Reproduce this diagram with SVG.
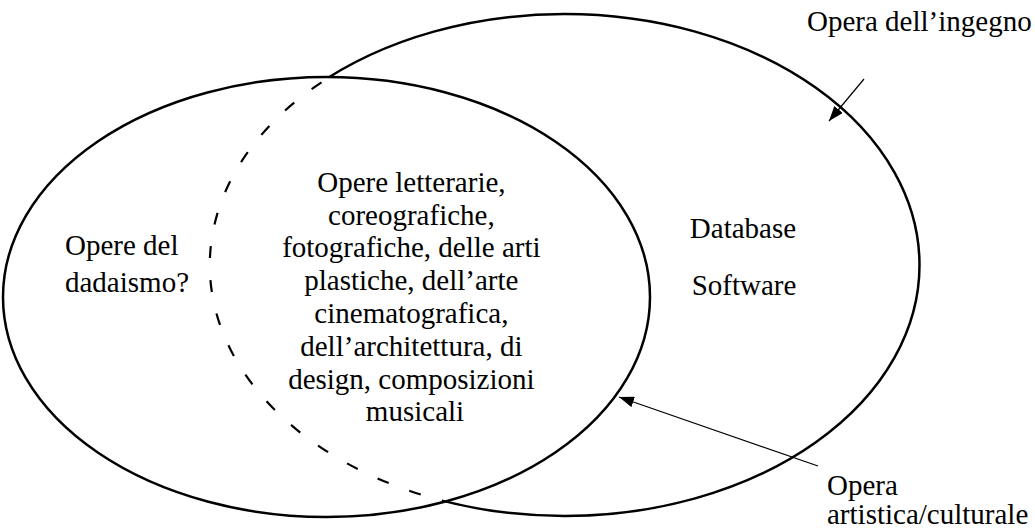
<svg xmlns="http://www.w3.org/2000/svg" width="1035" height="528" viewBox="0 0 1035 528">
  <style>
    .lbl { font-family: "Liberation Serif", "Times New Roman", serif; font-size: 29px; fill: #000; }
    .mid { text-anchor: middle; }
    .set { fill: none; stroke: #000; stroke-width: 2.5; }
    .hidden { fill: none; stroke: #000; stroke-width: 2.2; stroke-dasharray: 12 22; stroke-dashoffset: 25; }
    .link { fill: none; stroke: #000; stroke-width: 1.2; marker-end: url(#head); }
  </style>
  <defs>
    <marker id="head" markerUnits="userSpaceOnUse" markerWidth="15" markerHeight="11" refX="15" refY="5.5" orient="auto">
      <path d="M0,0 L15,5.5 L0,11 Z" fill="#000"/>
    </marker>
    <!-- everything outside the inner set -->
    <mask id="outsideInner">
      <rect width="1035" height="528" fill="#fff"/>
      <ellipse cx="326.5" cy="297" rx="323.5" ry="220" fill="#000"/>
    </mask>
  </defs>

  <rect width="1035" height="528" fill="#fff"/>

  <!-- outer set: works of ingenuity -->
  <g id="opera-ingegno">
    <ellipse class="set" cx="564.5" cy="265" rx="355" ry="251" mask="url(#outsideInner)"/>
    <!-- part of the outer boundary running through the inner set -->
    <path class="hidden" d="M329,77.5 A355,251 0 0 0 445,501.4"/>
    <text class="lbl mid" x="743" y="238">Database</text>
    <text class="lbl mid" x="744" y="295">Software</text>
  </g>

  <!-- inner set: artistic / cultural works -->
  <g id="opera-artistica">
    <ellipse class="set" cx="326.5" cy="297" rx="323.5" ry="220"/>
    <text class="lbl mid" x="415">
      <tspan x="415" y="192">Opere letterarie,</tspan>
      <tspan x="415" y="225">coreografiche,</tspan>
      <tspan x="415" y="257">fotografiche, delle arti</tspan>
      <tspan x="415" y="290">plastiche, dell’arte</tspan>
      <tspan x="415" y="323">cinematografica,</tspan>
      <tspan x="415" y="356">dell’architettura, di</tspan>
      <tspan x="415" y="389">design, composizioni</tspan>
      <tspan x="415" y="421">musicali</tspan>
    </text>
  </g>

  <g id="dadaismo">
    <text class="lbl" x="65" y="255">Opere del</text>
    <text class="lbl" x="65" y="292">dadaismo?</text>
  </g>

  <g id="label-ingegno">
    <text class="lbl" x="807" y="31">Opera dell’ingegno</text>
  </g>

  <g id="label-artistica">
    <text class="lbl" x="827" y="495">Opera</text>
    <text class="lbl" x="827" y="524">artistica/culturale</text>
  </g>

  <g id="connectors">
    <line class="link" x1="864" y1="79" x2="829" y2="121"/>
    <line class="link" x1="818" y1="466" x2="619" y2="397"/>
  </g>
</svg>
